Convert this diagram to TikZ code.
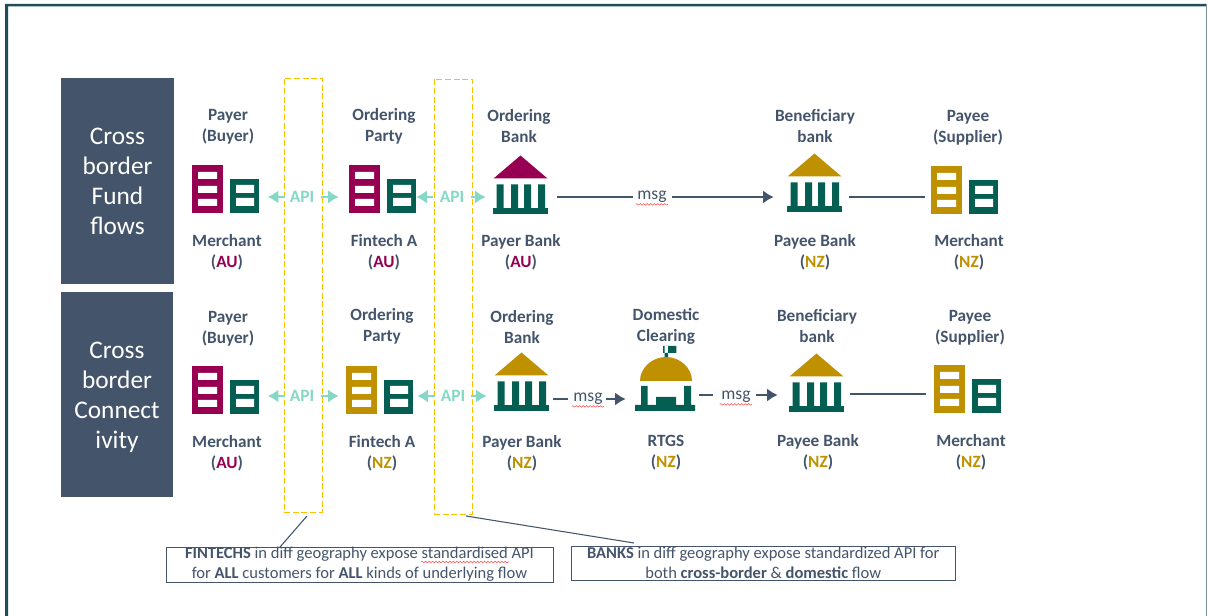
\documentclass[tikz,border=0pt]{standalone}
\usepackage{fontspec}
\setmainfont{Carlito}
\usetikzlibrary{arrows.meta,decorations.pathmorphing}
\definecolor{crimson}{HTML}{970052}
\definecolor{nzgold}{HTML}{BF9000}
\definecolor{dgreen}{HTML}{055E52}
\definecolor{slate}{HTML}{44546A}
\definecolor{apiteal}{HTML}{85D7C6}
\definecolor{framecol}{HTML}{1F4E5A}
\definecolor{dashgold}{HTML}{FFC000}
\begin{document}
\begin{tikzpicture}[x=0.75pt, y=-0.75pt]
        \tikzstyle{side_box}  = [shape = rectangle, fill = slate, text = white, align = center, inner sep = 0pt, font = \fontsize{19}{22.5}\selectfont]
        \tikzstyle{role_lbl}  = [align = center, text = slate, inner sep = 0pt, font = \fontsize{12.9}{15.75}\selectfont\bfseries]
        \tikzstyle{api_lbl}   = [text = apiteal, inner sep = 0pt, font = \fontsize{13}{14}\selectfont\bfseries]
        \tikzstyle{msg_lbl}   = [text = slate, inner sep = 1pt, font = \fontsize{13.2}{14}\selectfont]
        \tikzstyle{dash_box}  = [shape = rectangle, draw = dashgold, line width = 0.6pt, dash pattern = on 4.5pt off 2pt]
        \tikzstyle{note_box}  = [shape = rectangle, draw = slate, align = center, text = slate, line width = 0.7pt, inner sep = 0pt, font = \fontsize{12.4}{14.8}\selectfont]
        \tikzstyle{icon_box}  = [shape = rectangle, inner sep = 0pt]
        \tikzstyle{api_arrow} = [-{Latex[length = 8pt, width = 10pt]}, draw = apiteal, line width = 1.6pt]
        \tikzstyle{msg_line}  = [draw = slate, line width = 1.6pt]
        \tikzstyle{msg_arrow} = [-{Latex[length = 8pt, width = 10pt]}, draw = slate, line width = 1.6pt]
        \tikzstyle{lead_line} = [draw = slate, line width = 0.8pt]
        \tikzstyle{spell}     = [draw = red!70, line width = 0.4pt, decorate, decoration = {snake, segment length = 2.6pt, amplitude = 0.6pt}]
        \tikzset{
          pics/firm/.style = {code = {
            \fill[#1] (0,0) rectangle (31,-48);
            \fill[white] (6,-7) rectangle (25,-14) (6,-20) rectangle (25,-27) (6,-34) rectangle (25,-41);
            \fill[dgreen] (38,0) rectangle (67,-34);
            \fill[white] (44,-7) rectangle (62,-15) (44,-20) rectangle (62,-28);
            \node[icon_box, minimum width = 50.25pt, minimum height = 36pt] at (33.5,-24) (-box) {};
          }},
          pics/bank/.style = {code = {
            \fill[#1] (-27,-35.5) -- (0,-58.5) -- (27,-35.5) -- cycle;
            \fill[dgreen] (-27.5,0) rectangle (27.5,-6);
            \fill[dgreen] (-24,-5) rectangle (-17,-29.5) (-9.5,-5) rectangle (-2.5,-29.5) (3.5,-5) rectangle (10.5,-29.5) (17.5,-5) rectangle (24.5,-29.5);
            \node[icon_box, minimum width = 41.25pt, minimum height = 44.25pt] at (0,-29.5) (-box) {};
          }},
          pics/clearing/.style = {code = {
            \fill[dgreen] (-1.3,-54) rectangle (2,-65) (-3,-65) rectangle (10.4,-58);
            \fill[nzgold] (-26,-30) .. controls (-26,-43) and (-14,-54) .. (0,-54) .. controls (14,-54) and (26,-43) .. (26,-30) -- cycle;
            \fill[dgreen] (-31,0) rectangle (29,-6) (-25,-5) rectangle (-18.5,-25) (18,-5) rectangle (25,-25) (-10,-5) rectangle (10,-14);
            \node[icon_box, minimum width = 45pt, minimum height = 48.75pt] at (-1,-32.5) (-box) {};
          }}
        }

        % frame
        \fill[framecol] (5,4) rectangle (8,616) (5,4) rectangle (1207,6.5);
        \fill[framecol!60] (1206,4) rectangle (1207,616);
        \useasboundingbox (0,0) rectangle (1207,616);

        \node[side_box, minimum width = 84.75pt, minimum height = 154.5pt] at (117.5,181) (flows) {Cross\\border\\Fund\\flows};
        \node[side_box, minimum width = 84pt, minimum height = 153.75pt] at (117,394.5) (conn) {\rule{0pt}{17pt}Cross\\border\\Connect\\ivity};

        \node[dash_box, minimum width = 28.5pt, minimum height = 325.5pt] at (303,295) (dash1) {};
        \node[dash_box, minimum width = 28.5pt, minimum height = 326.25pt] at (453,296.5) (dash2) {};

        % top row
        \node[role_lbl] at (228, 127) (t1) {Payer\\(Buyer)};
        \node[role_lbl] at (384, 126) (t2) {Ordering\\Party};
        \node[role_lbl] at (519, 126) (t3) {Ordering\\Bank};
        \node[role_lbl] at (815, 126) (t4) {Beneficiary\\bank};
        \node[role_lbl] at (968, 127.5) (t5) {Payee\\(Supplier)};

        \pic (a1) at (192, 213) {firm = crimson};
        \pic (a2) at (349, 213) {firm = crimson};
        \pic (a3) at (520.5, 214) {bank = crimson};
        \pic (a4) at (814.5, 212) {bank = nzgold};
        \pic (a5) at (931, 214) {firm = nzgold};

        \node[role_lbl] at (227, 252) (b1) {Merchant\\(\textcolor{crimson}{AU})};
        \node[role_lbl] at (384, 252) (b2) {Fintech A\\(\textcolor{crimson}{AU})};
        \node[role_lbl] at (521, 252) (b3) {Payer Bank\\(\textcolor{crimson}{AU})};
        \node[role_lbl] at (815, 252) (b4) {Payee Bank\\(\textcolor{nzgold}{NZ})};
        \node[role_lbl] at (969, 252) (b5) {Merchant\\(\textcolor{nzgold}{NZ})};

        \node[api_lbl] at (302, 197) (api_a1) {API};
        \node[api_lbl] at (452, 197) (api_a2) {API};
        \node[msg_lbl] at (652, 197) (msg_a1) {msg};

        \draw[api_arrow, shorten <= 3.75pt, shorten >= 6.4pt] (api_a1) -- (api_a1 -| a1-box.east);
        \draw[api_arrow, shorten <= 5.25pt, shorten >= 7.5pt] (api_a1) -- (api_a1 -| a2-box.west);
        \draw[api_arrow, shorten <= 5pt] (api_a2) -- (api_a2 -| a2-box.east);
        \draw[api_arrow, shorten <= 5.25pt, shorten >= 5.25pt] (api_a2) -- (api_a2 -| a3-box.west);
        \draw[msg_line, shorten <= 6.75pt, shorten >= 2pt] (a3-box.east |- msg_a1) -- (msg_a1);
        \draw[msg_arrow, shorten <= 2.5pt, shorten >= 9.75pt] (msg_a1) -- (msg_a1 -| a4-box.west);
        \draw[msg_line, shorten <= 5pt, shorten >= 4.5pt] (a4-box.east |- msg_a1) -- (a5-box.west |- msg_a1);
        \draw[spell] (msg_a1.south west) -- (msg_a1.south east);

        % bottom row
        \node[role_lbl] at (228, 328.5) (t6) {Payer\\(Buyer)};
        \node[role_lbl] at (382, 326) (t7) {Ordering\\Party};
        \node[role_lbl] at (522, 327) (t8) {Ordering\\Bank};
        \node[role_lbl] at (666, 326.5) (t9) {Domestic\\Clearing};
        \node[role_lbl] at (817, 326) (t10) {Beneficiary\\bank};
        \node[role_lbl] at (970, 327.5) (t11) {Payee\\(Supplier)};

        \pic (c1) at (192, 414) {firm = crimson};
        \pic (c2) at (346, 414) {firm = nzgold};
        \pic (c3) at (521.5, 411) {bank = nzgold};
        \pic (c4) at (666, 411) {clearing};
        \pic (c5) at (816.5, 412) {bank = nzgold};
        \pic (c6) at (934, 413) {firm = nzgold};

        \node[role_lbl] at (227, 453) (d1) {Merchant\\(\textcolor{crimson}{AU})};
        \node[role_lbl] at (382, 453) (d2) {Fintech A\\(\textcolor{nzgold}{NZ})};
        \node[role_lbl] at (522, 453) (d3) {Payer Bank\\(\textcolor{nzgold}{NZ})};
        \node[role_lbl] at (666, 453) (d4) {RTGS\\(\textcolor{nzgold}{NZ})};
        \node[role_lbl] at (818, 452) (d5) {Payee Bank\\(\textcolor{nzgold}{NZ})};
        \node[role_lbl] at (971, 452) (d6) {Merchant\\(\textcolor{nzgold}{NZ})};

        \node[api_lbl] at (302, 396) (api_c1) {API};
        \node[api_lbl] at (453, 396) (api_c2) {API};
        \node[msg_lbl] at (588, 399) (msg_c1) {msg};
        \node[msg_lbl] at (736, 397) (msg_c2) {msg};
        \coordinate (mid_c) at (736, 395);
        \coordinate (pay_c) at (888, 394);

        \draw[api_arrow, shorten <= 3.75pt, shorten >= 6.4pt] (api_c1) -- (api_c1 -| c1-box.east);
        \draw[api_arrow, shorten <= 5.25pt, shorten >= 5.25pt] (api_c1) -- (api_c1 -| c2-box.west);
        \draw[api_arrow, shorten <= 4.5pt, shorten >= 3pt] (api_c2) -- (api_c2 -| c2-box.east);
        \draw[api_arrow, shorten <= 4.5pt, shorten >= 5.25pt] (api_c2) -- (api_c2 -| c3-box.west);
        \draw[msg_line, shorten <= 3pt, shorten >= 2.5pt] (c3-box.east |- msg_c1) -- (msg_c1);
        \draw[msg_arrow, shorten <= 1pt, shorten >= 6.75pt] (msg_c1) -- (msg_c1 -| c4-box.west);
        \draw[msg_line, shorten <= 3pt, shorten >= 17pt] (c4-box.east |- mid_c) -- (mid_c);
        \draw[msg_arrow, shorten <= 15pt, shorten >= 8.25pt] (mid_c) -- (mid_c -| c5-box.west);
        \draw[msg_line, shorten <= 4.5pt, shorten >= 6pt] (c5-box.east |- pay_c) -- (c6-box.west |- pay_c);
        \draw[spell] (msg_c1.south west) -- (msg_c1.south east);
        \draw[spell] (msg_c2.south west) -- (msg_c2.south east);

        % notes
        \node[note_box, minimum width = 290.25pt, minimum height = 26.25pt] at (359.5,564.5) (note1) {\textbf{FINTECHS} in diff geography expose standardised API\\for \textbf{ALL} customers for \textbf{ALL} kinds of underlying flow};
        \node[note_box, minimum width = 288.375pt, minimum height = 25.5pt] at (763.25,563) (note2) {\textbf{BANKS} in diff geography expose standardized API for\\both \textbf{cross-border} \& \textbf{domestic} flow};

        \coordinate (tail1) at (307,516);
        \coordinate (foot1) at (280,547);
        \coordinate (tail2) at (466,516);
        \coordinate (foot2) at (634,543);
        \draw[lead_line] (tail1) -- (foot1);
        \draw[lead_line] (tail2) -- (foot2);
        \coordinate (sp1) at (421,562);
        \coordinate (sp2) at (509,562);
        \draw[spell] (sp1) -- (sp2);
      \end{tikzpicture}
\end{document}
